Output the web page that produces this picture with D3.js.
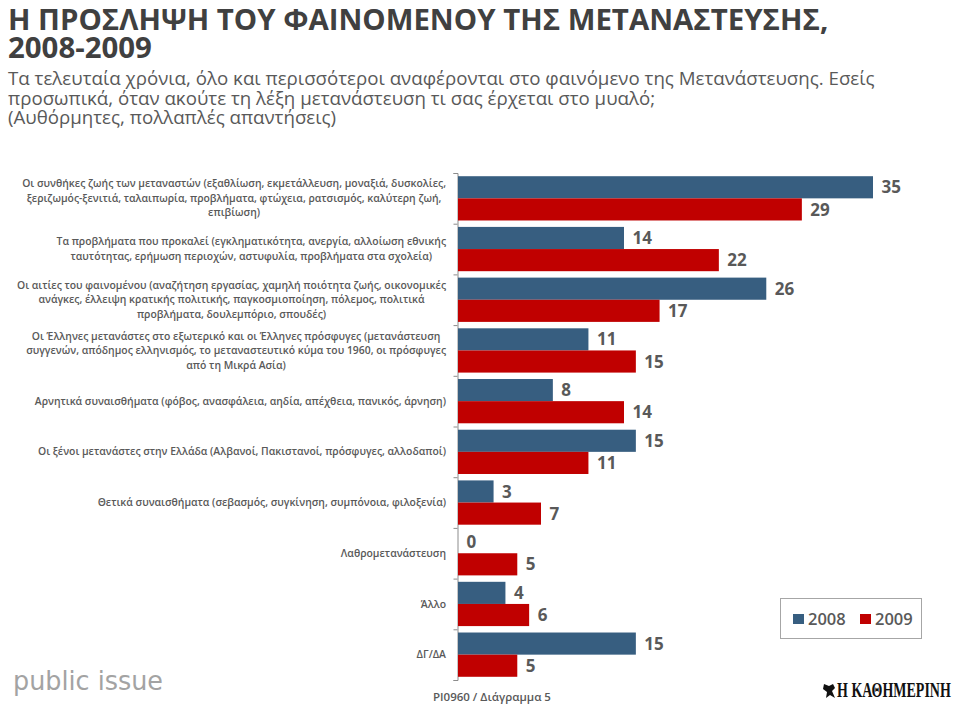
<!DOCTYPE html>
<html><head><meta charset="utf-8">
<script src="https://cdn.jsdelivr.net/npm/d3@7"></script>
<style>body{margin:0;background:#fff} svg{display:block}</style>
</head><body><svg id="c" width="960" height="705"></svg>
<script>
const titleLines = ["Η ΠΡΟΣΛΗΨΗ ΤΟΥ ΦΑΙΝΟΜΕΝΟΥ ΤΗΣ ΜΕΤΑΝΑΣΤΕΥΣΗΣ,", "2008-2009"];
const subtitleLines = [
  "Τα τελευταία χρόνια, όλο και περισσότεροι αναφέρονται στο φαινόμενο της Μετανάστευσης. Εσείς",
  "προσωπικά, όταν ακούτε τη λέξη μετανάστευση τι σας έρχεται στο μυαλό;",
  "(Αυθόρμητες, πολλαπλές απαντήσεις)"];
const categories = [
  "Οι συνθήκες ζωής των μεταναστών (εξαθλίωση, εκμετάλλευση, μοναξιά, δυσκολίες,|ξεριζωμός-ξενιτιά, ταλαιπωρία, προβλήματα, φτώχεια, ρατσισμός, καλύτερη ζωή,|επιβίωση)",
  "Τα προβλήματα που προκαλεί (εγκληματικότητα, ανεργία, αλλοίωση εθνικής|ταυτότητας, ερήμωση περιοχών, αστυφυλία, προβλήματα στα σχολεία)",
  "Οι αιτίες του φαινομένου (αναζήτηση εργασίας, χαμηλή ποιότητα ζωής, οικονομικές|ανάγκες, έλλειψη κρατικής πολιτικής, παγκοσμιοποίηση, πόλεμος, πολιτικά|προβλήματα, δουλεμπόριο, σπουδές)",
  "Οι Έλληνες μετανάστες στο εξωτερικό και οι Έλληνες πρόσφυγες (μετανάστευση|συγγενών, απόδημος ελληνισμός, το μεταναστευτικό κύμα του 1960, οι πρόσφυγες|από τη Μικρά Ασία)",
  "Αρνητικά συναισθήματα (φόβος, ανασφάλεια, αηδία, απέχθεια, πανικός, άρνηση)",
  "Οι ξένοι μετανάστες στην Ελλάδα (Αλβανοί, Πακιστανοί, πρόσφυγες, αλλοδαποί)",
  "Θετικά συναισθήματα (σεβασμός, συγκίνηση, συμπόνοια, φιλοξενία)",
  "Λαθρομετανάστευση",
  "Άλλο",
  "ΔΓ/ΔΑ"];
const series = ["2008", "2009"];
const values2008 = [35, 14, 26, 11, 8, 15, 3, 0, 4, 15];
const values2009 = [29, 22, 17, 15, 14, 11, 7, 5, 6, 5];
const footerText = "PI0960 / Διάγραμμα 5";

const colors = {"2008": "#375E80", "2009": "#C00000"};
const textGray = "#595959";

const svg = d3.select("#c");
const font = "'Open Sans', 'Noto Sans', sans-serif";

// Title
svg.append("g").selectAll("text").data(titleLines).join("text")
  .attr("x", 8).attr("y", (d, i) => 30 + i * 28)
  .attr("font-family", font).attr("font-weight", 700).attr("font-size", 29.4)
  .attr("fill", "#404040").text(d => d);

svg.append("g").selectAll("text").data(subtitleLines).join("text")
  .attr("x", 8).attr("y", (d, i) => 85 + i * 19.5)
  .attr("font-family", font).attr("font-weight", 400).attr("font-size", 18.7)
  .attr("fill", textGray).text(d => d);

// Scales
const y0 = d3.scaleBand().domain(categories).range([173, 680]);
const y1 = d3.scaleBand().domain(series).range([0, y0.bandwidth()]).paddingOuter(0.145);
const x = d3.scaleLinear().domain([0, 35]).range([458, 873]);

// Axis with ticks at category boundaries
const yb = d3.scaleLinear().domain([0, categories.length]).range([173, 680]);
svg.append("g").attr("transform", "translate(457.5,0)")
  .call(d3.axisLeft(yb).ticks(categories.length).tickSize(4).tickFormat(""))
  .call(g => g.selectAll("path,line").attr("stroke", "#8c8c8c"));

const data = categories.map((c, i) => ({cat: c, vals: [
  {s: "2008", v: values2008[i]}, {s: "2009", v: values2009[i]}]}));

const groups = svg.append("g").selectAll("g").data(data).join("g")
  .attr("transform", d => `translate(0,${y0(d.cat)})`);

groups.selectAll("rect").data(d => d.vals).join("rect")
  .attr("x", x(0)).attr("y", d => y1(d.s))
  .attr("width", d => x(d.v) - x(0)).attr("height", y1.bandwidth())
  .attr("fill", d => colors[d.s]);

groups.selectAll("text.val").data(d => d.vals).join("text")
  .attr("class", "val")
  .attr("x", d => x(d.v) + 8.5).attr("y", d => y1(d.s) + y1.bandwidth() / 2)
  .attr("dy", "0.36em")
  .attr("font-family", font).attr("font-weight", 700).attr("font-size", 17)
  .attr("fill", textGray).text(d => d.v);

// Category labels
const lh = 14.5;
const labG = svg.append("g");
categories.forEach(c => {
  const lines = c.split("|");
  const cy = y0(c) + y0.bandwidth() / 2;
  const t = labG.append("text")
    .attr("font-family", font).attr("font-weight", 600).attr("font-size", 10.4)
    .attr("fill", textGray).attr("text-anchor", "middle");
  lines.forEach((l, i) => {
    t.append("tspan").attr("x", 0)
      .attr("y", cy + (i - (lines.length - 1) / 2) * lh).attr("dy", "0.35em").text(l);
  });
  let maxw = 0;
  t.selectAll("tspan").each(function() { maxw = Math.max(maxw, this.getComputedTextLength()); });
  t.selectAll("tspan").attr("x", 446 - maxw / 2);
});

// Legend
const lg = svg.append("g");
lg.append("rect").attr("x", 780.5).attr("y", 598.5).attr("width", 141).attr("height", 40)
  .attr("fill", "none").attr("stroke", "#a6a6a6");
series.forEach((s, i) => {
  lg.append("rect").attr("x", 793 + i * 67).attr("y", 614).attr("width", 11).attr("height", 10)
    .attr("fill", colors[s]);
  lg.append("text").attr("x", 808 + i * 67).attr("y", 625)
    .attr("font-family", font).attr("font-weight", 600).attr("font-size", 16.5)
    .attr("fill", textGray).text(s);
});

// Footer
svg.append("text").attr("x", 433).attr("y", 701)
  .attr("font-family", font).attr("font-weight", 600).attr("font-size", 11.5)
  .attr("fill", textGray).text(footerText);

svg.append("text").attr("x", 13).attr("y", 690)
  .attr("font-family", "'DejaVu Sans', sans-serif").attr("font-size", 26)
  .attr("textLength", 150).attr("lengthAdjust", "spacingAndGlyphs")
  .attr("fill", "#a3a3a3").text("public issue");

// Newspaper logo: condensed look via vertical stretch
svg.append("text").attr("transform", "translate(837,697) scale(1,1.55)")
  .attr("font-family", "'Liberation Serif', serif")
  .attr("font-weight", 700).attr("font-size", 14)
  .attr("fill", "#111").text("Η ΚΑΘΗΜΕΡΙΝΗ");
// small bird emblem
svg.append("path")
  .attr("d", "M824,684 L829,686 L833,684 L835,688 L832,691 L835,698 L830,695 L826,698 L827,692 L823,689 Z")
  .attr("fill", "#111");
</script></body></html>
